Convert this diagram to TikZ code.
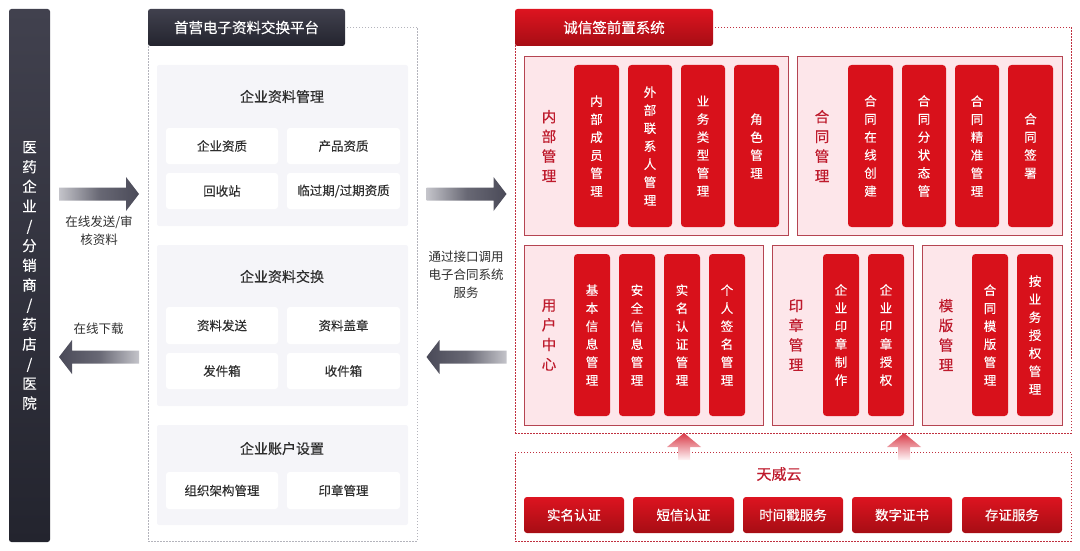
\documentclass[tikz,border=0pt]{standalone}
\usepackage{fontspec}
\setmainfont{Noto Sans CJK SC}
\newfontfamily\med[FakeBold=0.35]{Noto Sans CJK SC}
\newfontfamily\lite[FakeBold=0.15]{Noto Sans CJK SC}
\definecolor{darkT}{HTML}{41414E}
\definecolor{darkB}{HTML}{23242E}
\definecolor{redT}{HTML}{DD1420}
\definecolor{redB}{HTML}{A60D14}
\definecolor{barred}{HTML}{D8111B}
\definecolor{pinkp}{HTML}{FDE6EA}
\definecolor{pinkb}{HTML}{B54552}
\definecolor{dotred}{HTML}{C0303F}
\definecolor{dotgray}{HTML}{B4B4BC}
\definecolor{panelg}{HTML}{F5F5F9}
\definecolor{txt}{HTML}{2E2E2E}
\definecolor{redtxt}{HTML}{BE1A2C}
\definecolor{arrD}{HTML}{4A4A58}
\definecolor{arrL}{HTML}{C4C4CA}
\definecolor{upT}{HTML}{D93A48}
\definecolor{upB}{HTML}{FEF6F7}
\newcommand{\rb}[6]{\node[#6,inner sep=0pt,minimum width={(#4-#2)*1pt},minimum height={(#5-#3)*1pt}] (#1) at ({(#2+#4)/2},{(#3+#5)/2}) {};}
\newcommand{\rbt}[7]{\node[#6,inner sep=0pt,align=center,minimum width={(#4-#2)*1pt},minimum height={(#5-#3)*1pt}] (#1) at ({(#2+#4)/2},{(#3+#5)/2}) {#7};}
% block arrows: centre x, centre y
\newcommand{\rarr}[2]{\shade[left color=arrL,right color=arrD,middle color=arrD!75!arrL] ({#1-40},{#2-6.5}) -- ({#1+27},{#2-6.5}) -- ({#1+27},{#2-17}) -- ({#1+40},{#2}) -- ({#1+27},{#2+17}) -- ({#1+27},{#2+6.5}) -- ({#1-40},{#2+6.5}) -- cycle;}
\newcommand{\larr}[2]{\shade[right color=arrL,left color=arrD,middle color=arrD!75!arrL] ({#1+40},{#2-6.5}) -- ({#1-27},{#2-6.5}) -- ({#1-27},{#2-17}) -- ({#1-40},{#2}) -- ({#1-27},{#2+17}) -- ({#1-27},{#2+6.5}) -- ({#1+40},{#2+6.5}) -- cycle;}
\newcommand{\uarr}[1]{\shade[top color=upT,bottom color=upB] ({#1},433) -- ({#1+17},447) -- ({#1+6},447) -- ({#1+6},460) -- ({#1-6},460) -- ({#1-6},447) -- ({#1-17},447) -- cycle;}
\tikzset{
 x=1pt,y=-1pt,
 darkhead/.style={rounded corners=2.5pt,top color=darkT,bottom color=darkB,text=white,font=\med\fontsize{14.5}{18}\selectfont},
 redhead/.style={rounded corners=2.5pt,top color=redT,bottom color=redB,text=white,font=\med\fontsize{14.5}{18}\selectfont},
 sidebar/.style={rounded corners=2.5pt,top color=darkT,bottom color=darkB,text=white,font=\lite\fontsize{14.5}{19.7}\selectfont},
 graybox/.style={draw=dotgray,line width=.8pt,dash pattern=on 1.5pt off 1.5pt},
 redbox/.style={draw=dotred,line width=.8pt,dash pattern=on 1.5pt off 1.5pt},
 gpanel/.style={fill=panelg,rounded corners=2pt},
 gcard/.style={fill=white,rounded corners=3pt,text=txt,font=\lite\fontsize{12.5}{15}\selectfont},
 ptitle/.style={text=txt,font=\med\fontsize{14}{18}\selectfont,inner sep=0pt},
 rpanel/.style={fill=pinkp,draw=pinkb,line width=.8pt},
 rbar/.style={fill=barred,rounded corners=3.5pt,text=white,font=\lite\fontsize{12.5}{18}\selectfont},
 rlabel/.style={text=redtxt,align=center,inner sep=0pt,font=\med\fontsize{14.5}{19.7}\selectfont},
 rbutton/.style={rounded corners=3pt,top color=redT,bottom color=redB,text=white,font=\med\fontsize{13.5}{16}\selectfont},
 note/.style={text=txt,align=center,inner sep=0pt,font=\fontsize{12.5}{18}\selectfont},
}
\begin{document}
\begin{tikzpicture}
\useasboundingbox (0,0) rectangle (1080,551);
\rbt{actor}{9}{9}{50}{542}{sidebar}{医\\药\\企\\业\\/\\分\\销\\商\\/\\药\\店\\/\\医\\院}
% platform
\rb{platbox}{148}{27}{417}{541}{graybox}
\rbt{plathead}{148}{9}{345}{46}{darkhead}{首营电子资料交换平台}
\rb{p1}{157}{65}{408}{226}{gpanel}
\rb{p2}{157}{245}{408}{406}{gpanel}
\rb{p3}{157}{425}{408}{525}{gpanel}
\node[ptitle] (t1) at (282,96.5) {企业资料管理};
\node[ptitle] (t2) at (282,276.5) {企业资料交换};
\node[ptitle] (t3) at (282,448.5) {企业账户设置};
\rbt{c11}{166}{128}{278}{164}{gcard}{企业资质}
\rbt{c12}{287}{128}{400}{164}{gcard}{产品资质}
\rbt{c13}{166}{173}{278}{209}{gcard}{回收站}
\rbt{c14}{287}{173}{400}{209}{gcard}{临过期/过期资质}
\rbt{c21}{166}{307}{278}{344}{gcard}{资料发送}
\rbt{c22}{287}{307}{400}{344}{gcard}{资料盖章}
\rbt{c23}{166}{353}{278}{389}{gcard}{发件箱}
\rbt{c24}{287}{353}{400}{389}{gcard}{收件箱}
\rbt{c31}{166}{472}{278}{509}{gcard}{组织架构管理}
\rbt{c32}{287}{472}{400}{509}{gcard}{印章管理}
% arrows
\rarr{99}{194}
\larr{99}{357}
\rarr{466.5}{194}
\larr{466.5}{357}
\node[note] (n1) at (99,231) {在线发送/审\\核资料};
\node[note] (n2) at (98.5,329) {在线下载};
\node[note] (n3) at (466,275) {通过接口调用\\电子合同系统\\服务};
% system
\rb{sysbox}{515}{27}{1071}{433}{redbox}
\rbt{syshead}{515}{9}{713}{46}{redhead}{诚信签前置系统}
\rb{r1}{524}{56}{788}{235}{rpanel}
\rb{r2}{797}{56}{1062}{235}{rpanel}
\rb{r3}{524}{245}{763}{425}{rpanel}
\rb{r4}{772}{245}{913}{425}{rpanel}
\rb{r5}{922}{245}{1062}{425}{rpanel}
\node[rlabel] (l1) at (549,146) {内\\部\\管\\理};
\node[rlabel] (l2) at (822,146) {合\\同\\管\\理};
\node[rlabel] (l3) at (549,335) {用\\户\\中\\心};
\node[rlabel] (l4) at (796,335) {印\\章\\管\\理};
\node[rlabel] (l5) at (946,335) {模\\版\\管\\理};
\rbt{b11}{574}{65}{619}{227}{rbar}{内\\部\\成\\员\\管\\理}
\rbt{b12}{628}{65}{672}{227}{rbar}{外\\部\\联\\系\\人\\管\\理}
\rbt{b13}{681}{65}{725}{227}{rbar}{业\\务\\类\\型\\管\\理}
\rbt{b14}{734}{65}{779}{227}{rbar}{角\\色\\管\\理}
\rbt{b21}{848}{65}{893}{227}{rbar}{合\\同\\在\\线\\创\\建}
\rbt{b22}{902}{65}{946}{227}{rbar}{合\\同\\分\\状\\态\\管}
\rbt{b23}{955}{65}{999}{227}{rbar}{合\\同\\精\\准\\管\\理}
\rbt{b24}{1008}{65}{1053}{227}{rbar}{合\\同\\签\\署}
\rbt{b31}{574}{254}{610}{416}{rbar}{基\\本\\信\\息\\管\\理}
\rbt{b32}{619}{254}{655}{416}{rbar}{安\\全\\信\\息\\管\\理}
\rbt{b33}{664}{254}{700}{416}{rbar}{实\\名\\认\\证\\管\\理}
\rbt{b34}{709}{254}{745}{416}{rbar}{个\\人\\签\\名\\管\\理}
\rbt{b41}{823}{254}{859}{416}{rbar}{企\\业\\印\\章\\制\\作}
\rbt{b42}{868}{254}{904}{416}{rbar}{企\\业\\印\\章\\授\\权}
\rbt{b51}{972}{254}{1008}{416}{rbar}{合\\同\\模\\版\\管\\理}
\rbt{b52}{1017}{254}{1053}{416}{rbar}{按\\业\\务\\授\\权\\管\\理}
% cloud
\rb{cloudbox}{515}{452}{1071}{541}{redbox}
\uarr{684}
\uarr{904}
\node[rlabel,font=\med\fontsize{15}{18}\selectfont] (cloud) at (779,474) {天威云};
\rbt{s1}{524}{497}{624}{533}{rbutton}{实名认证}
\rbt{s2}{633}{497}{734}{533}{rbutton}{短信认证}
\rbt{s3}{743}{497}{843}{533}{rbutton}{时间戳服务}
\rbt{s4}{852}{497}{952}{533}{rbutton}{数字证书}
\rbt{s5}{962}{497}{1062}{533}{rbutton}{存证服务}
\end{tikzpicture}
\end{document}
